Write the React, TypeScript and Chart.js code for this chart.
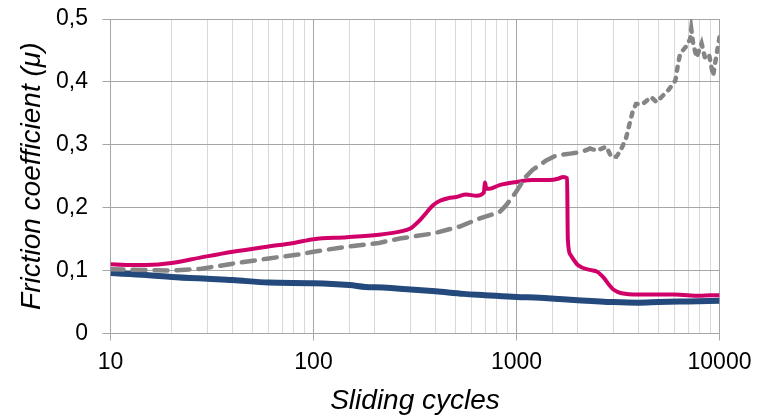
import React, { useEffect, useRef } from "react";
import { Chart, registerables } from "chart.js";

Chart.register(...registerables);

// Blue series (lowest)
const blueX = [10, 15, 20, 30, 40, 60, 100, 150, 180, 220, 300, 400, 550, 700, 1000, 1300, 1600, 2000, 3000, 4000, 5000, 7000, 10000];
const blueY = [0.096, 0.093, 0.090, 0.087, 0.085, 0.081, 0.080, 0.077, 0.074, 0.073, 0.070, 0.067, 0.063, 0.061, 0.058, 0.057, 0.055, 0.053, 0.050, 0.049, 0.050, 0.051, 0.052];

// Magenta series
const pinkX = [10, 12, 15, 20, 28, 40, 59, 80, 100, 146, 210, 266, 300, 334, 360, 388, 420, 460, 505, 565, 635, 690, 700, 710, 735, 825, 1000, 1200, 1460, 1600, 1700, 1775, 1790, 1845, 2005, 2300, 2500, 2700, 2850, 3000, 3300, 4000, 6000, 8000, 9000, 10000];
const pinkY = [0.110, 0.109, 0.109, 0.112, 0.121, 0.130, 0.138, 0.144, 0.150, 0.153, 0.157, 0.162, 0.167, 0.180, 0.192, 0.204, 0.211, 0.215, 0.217, 0.221, 0.219, 0.224, 0.240, 0.230, 0.230, 0.236, 0.241, 0.244, 0.244, 0.246, 0.249, 0.247, 0.150, 0.125, 0.109, 0.101, 0.098, 0.088, 0.078, 0.070, 0.064, 0.062, 0.062, 0.060, 0.061, 0.061];

// Gray dashed series
const grayX = [10, 15, 20, 28, 40, 59, 86, 100, 146, 210, 266, 388, 525, 660, 825, 890, 980, 1110, 1200, 1400, 1570, 1840, 2110, 2300, 2500, 2770, 2930, 3100, 3260, 3460, 3590, 3730, 3880, 4190, 4610, 4890, 5180, 5600, 6060, 6230, 6400, 6800, 7170, 7260, 7400, 7710, 8160, 8500, 8900, 9300, 9600, 10000];
const grayY = [0.102, 0.101, 0.100, 0.103, 0.111, 0.119, 0.126, 0.130, 0.138, 0.144, 0.151, 0.159, 0.170, 0.183, 0.193, 0.204, 0.222, 0.249, 0.260, 0.275, 0.283, 0.286, 0.289, 0.294, 0.291, 0.297, 0.281, 0.281, 0.291, 0.310, 0.331, 0.352, 0.365, 0.365, 0.376, 0.368, 0.376, 0.387, 0.402, 0.426, 0.445, 0.455, 0.468, 0.484, 0.463, 0.439, 0.461, 0.437, 0.442, 0.410, 0.437, 0.471];

const xTickLabels = ["10", "100", "1000", "10000"];
const yTickLabels = ["0", "0,1", "0,2", "0,3", "0,4", "0,5"];

const zip = (xs: number[], ys: number[]) => xs.map((x, i) => ({ x, y: ys[i] }));
const isDecade = (v: number) => Math.abs(Math.log10(v) - Math.round(Math.log10(v))) < 1e-9;

export default function App() {
  const ref = useRef<HTMLCanvasElement>(null);
  useEffect(() => {
    if (!ref.current) return;
    const chart = new Chart(ref.current, {
      type: "line",
      data: {
        datasets: [
          {
            label: "gray",
            data: zip(grayX, grayY),
            borderColor: "#858585",
            borderWidth: 4.5,
            borderDash: [13, 9],
            borderCapStyle: "round",
            pointRadius: 0,
            tension: 0,
            segment: {
              borderDash: (c: any) => (c.p0.parsed.x >= 2300 ? [4, 7] : undefined),
            },
          },
          {
            label: "pink",
            data: zip(pinkX, pinkY),
            borderColor: "#D10069",
            borderWidth: 4,
            pointRadius: 0,
            cubicInterpolationMode: "monotone",
          },
          {
            label: "blue",
            data: zip(blueX, blueY),
            borderColor: "#24497C",
            borderWidth: 6,
            pointRadius: 0,
            cubicInterpolationMode: "monotone",
          },
        ],
      },
      options: {
        responsive: false,
        animation: false,
        layout: { padding: { left: 0, top: 19, right: 38.5, bottom: 0 } },
        plugins: { legend: { display: false }, tooltip: { enabled: false } },
        scales: {
          x: {
            type: "logarithmic",
            min: 10,
            max: 10000,
            afterFit: (s: any) => {
              s.height = 81.5;
              s.paddingLeft = 0;
              s.paddingRight = 0;
            },
            border: { color: "#a6a6a6", width: 1 },
            grid: {
              color: (c: any) => (c.tick && isDecade(c.tick.value) ? "#a6a6a6" : "#d9d9d9"),
              tickColor: (c: any) => (c.tick && isDecade(c.tick.value) ? "#a6a6a6" : "rgba(0,0,0,0)"),
              tickLength: 7,
              lineWidth: 1,
            },
            ticks: {
              autoSkip: false,
              maxRotation: 0,
              padding: 8,
              color: "#000",
              font: { family: "'Liberation Sans', Arial, sans-serif", size: 23 },
              callback: (v: any) => {
                const n = Number(v);
                if (!isDecade(n)) return "";
                const idx = Math.round(Math.log10(n)) - 1;
                return xTickLabels[idx] ?? "";
              },
            },
            title: {
              display: true,
              text: "Sliding cycles",
              color: "#000",
              padding: { top: 0, bottom: -3 },
              font: { family: "'Liberation Sans', Arial, sans-serif", size: 28, style: "italic" },
            },
          },
          y: {
            min: 0,
            max: 0.5,
            afterFit: (s: any) => {
              s.width = 110.5;
              s.paddingTop = 0;
              s.paddingBottom = 0;
            },
            border: { color: "#a6a6a6", width: 1 },
            grid: {
              color: "#a6a6a6",
              tickColor: "#a6a6a6",
              tickLength: 8,
              lineWidth: 1,
            },
            ticks: {
              stepSize: 0.1,
              padding: 14.5,
              color: "#000",
              font: { family: "'Liberation Sans', Arial, sans-serif", size: 23 },
              callback: (v: any) => yTickLabels[Math.round(Number(v) * 10)] ?? "",
            },
            title: {
              display: true,
              text: "Friction coefficient (\u03bc)",
              color: "#000",
              padding: { top: 15, bottom: 0 },
              font: { family: "'Liberation Sans', Arial, sans-serif", size: 28, style: "italic" },
            },
          },
        },
      },
    });
    return () => chart.destroy();
  }, []);
  return (
    <div style={{ position: "fixed", left: 0, top: 0, width: 758, height: 415, background: "#fff" }}>
      <canvas ref={ref} width={758} height={415} style={{ width: 758, height: 415, display: "block" }} />
    </div>
  );
}
